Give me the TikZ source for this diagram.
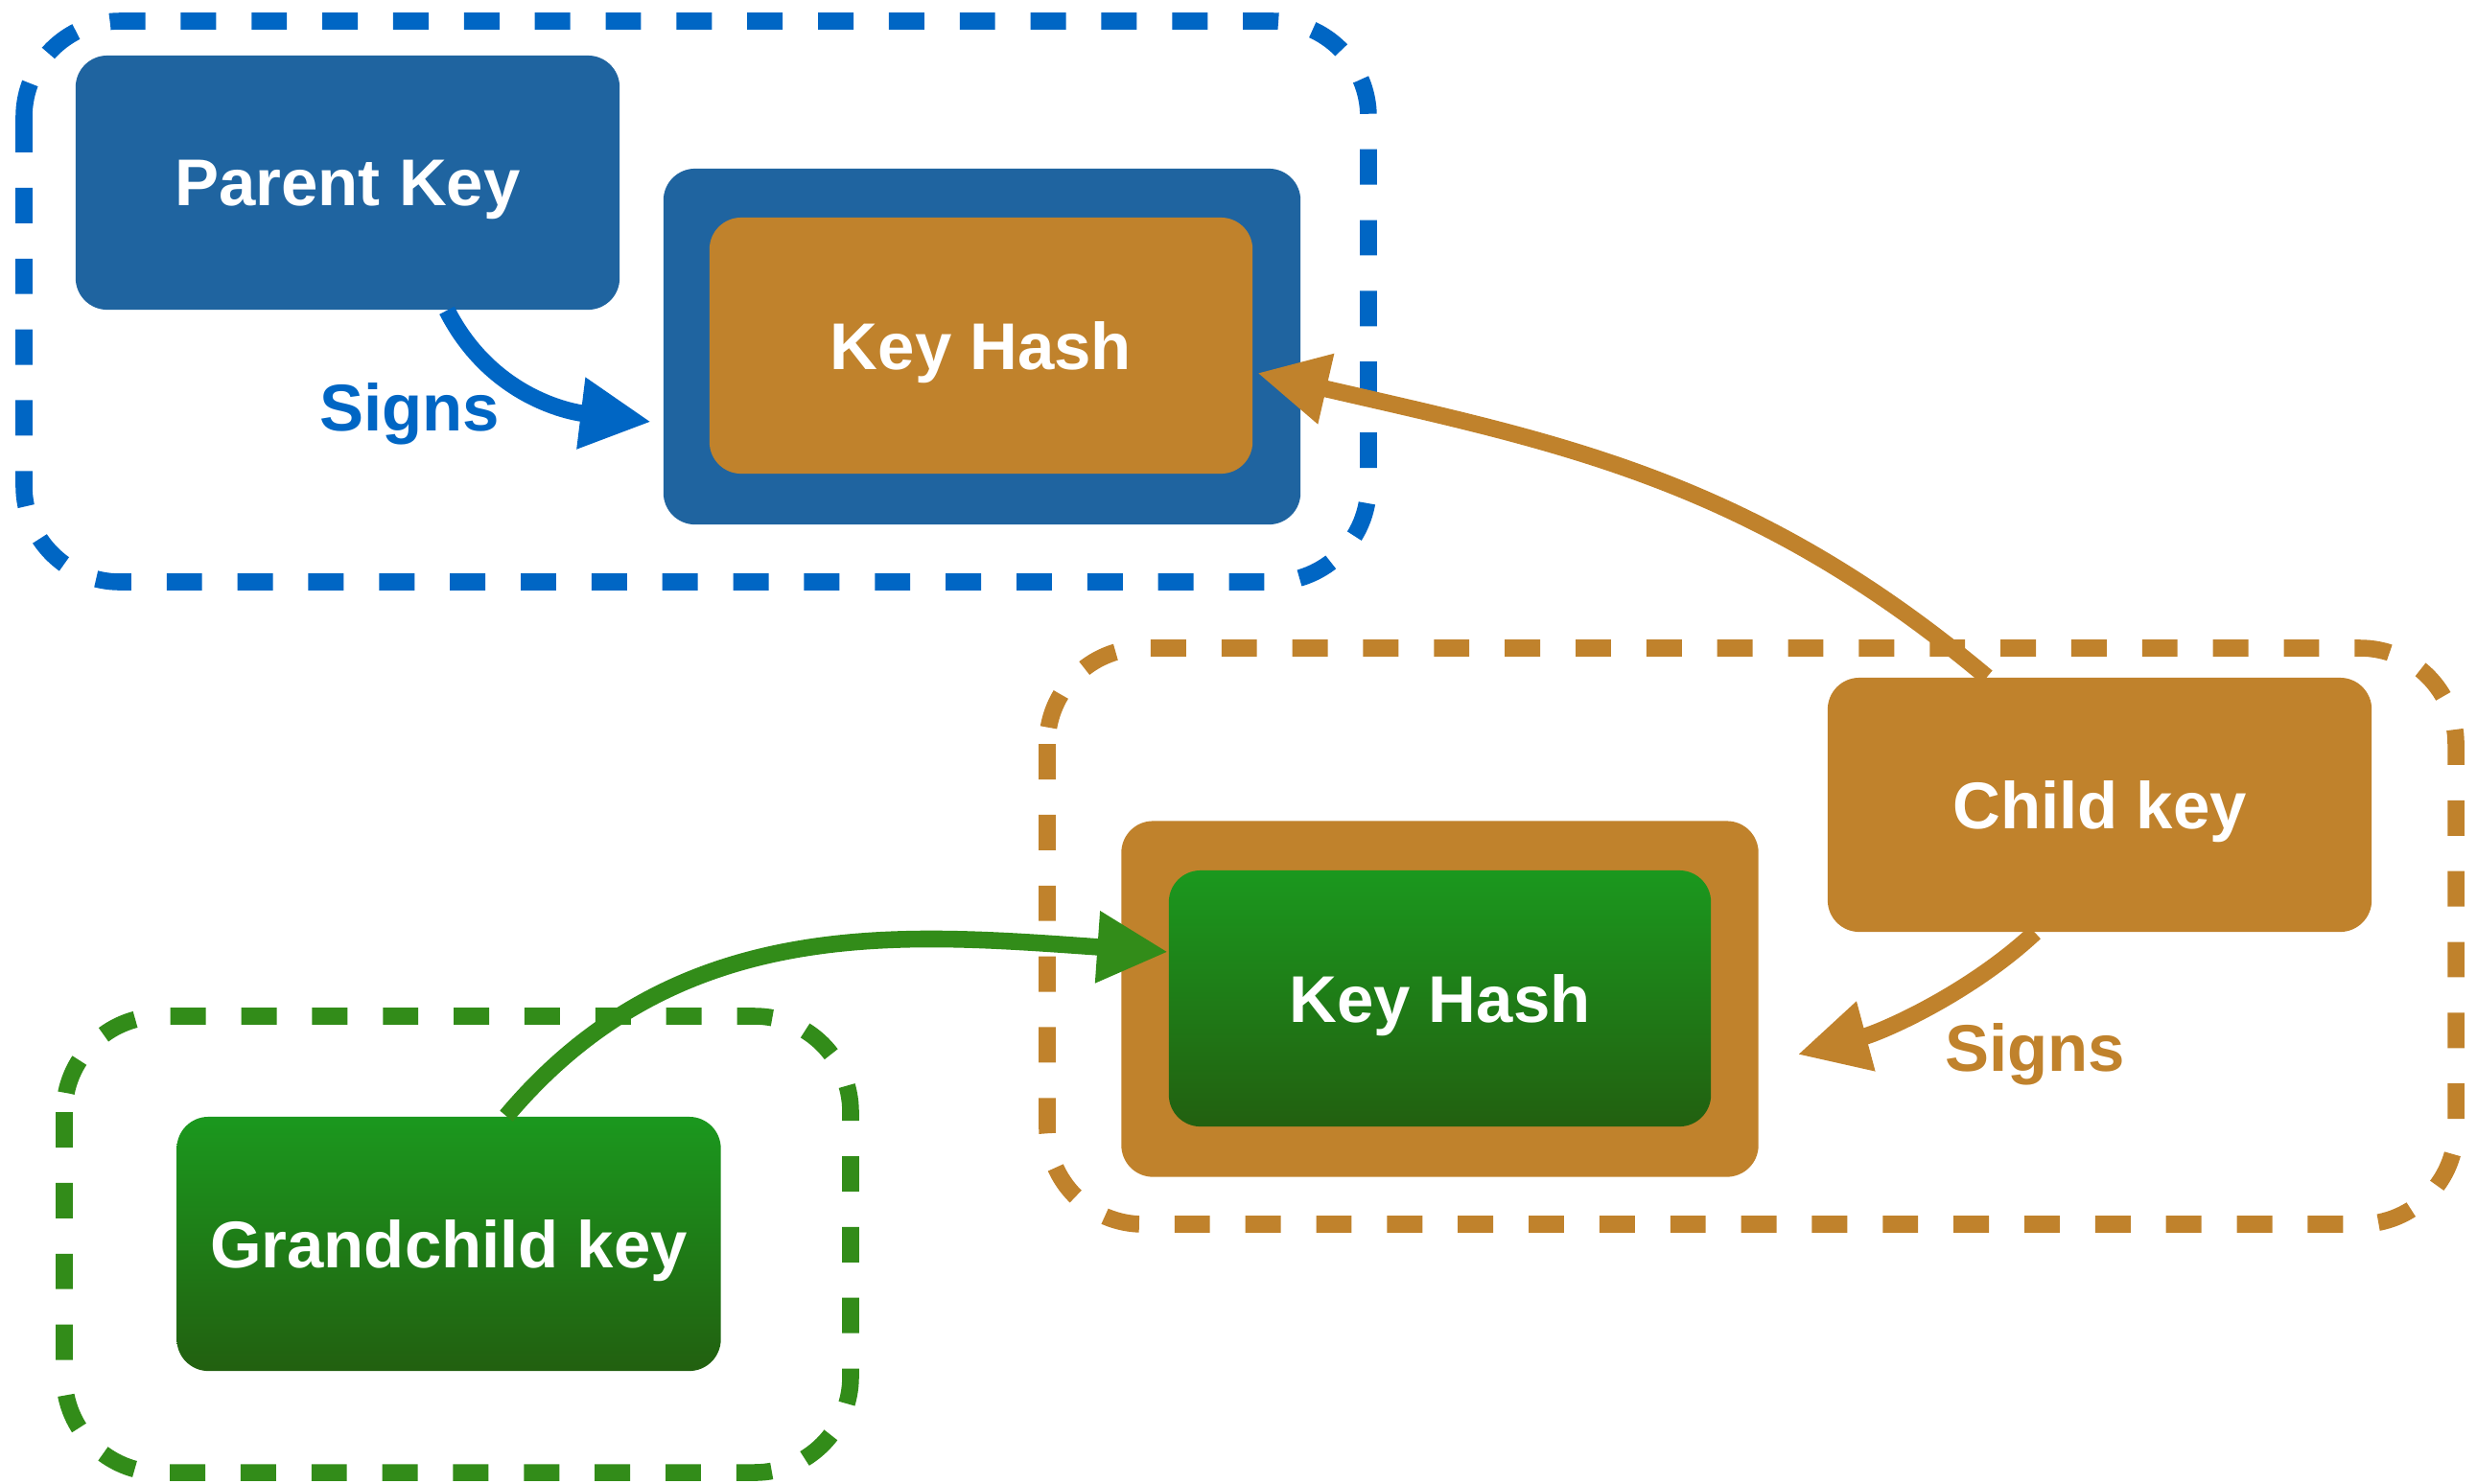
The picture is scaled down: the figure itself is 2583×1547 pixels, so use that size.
\documentclass[tikz,border=0pt]{standalone}
\usepackage{fontspec}
\setsansfont{Liberation Sans}[BoldFont={Liberation Sans Bold}]
\usepackage{tikz}
\usetikzlibrary{positioning,calc}
\usetikzlibrary{arrows.meta}
\definecolor{KeyBlue}{RGB}{31,100,160}
\definecolor{LineBlue}{RGB}{0,102,196}
\definecolor{KeyGold}{RGB}{192,130,44}
\definecolor{LineGreen}{RGB}{50,140,25}
\definecolor{GreenTop}{RGB}{27,152,30}
\definecolor{GreenBot}{RGB}{34,96,16}
\newcommand{\keyfont}{\sffamily\bfseries\fontsize{19.6}{23}\selectfont}
\tikzset{
  keybox/.style={rectangle,rounded corners=0.33cm,minimum width=5.67cm,minimum height=2.65cm,
    inner sep=0pt,text depth=0pt,text=white,font=\keyfont},
  holder/.style={rectangle,rounded corners=0.33cm,minimum width=6.64cm,minimum height=3.71cm,inner sep=0pt},
  greenkey/.style={keybox,top color=GreenTop,bottom color=GreenBot},
  group/.style={line width=5pt,rounded corners=1cm,dash pattern=on 10.5pt off 10.5pt},
  link/.style={line width=5pt,-{Triangle[length=21pt,width=20pt]}},
  signs/.style={font=\keyfont,text depth=0pt},
}

\begin{document}
\begin{tikzpicture}[x=0.01cm,y=-0.01cm]
\useasboundingbox (0,0) rectangle (2583,1547);
\draw[group,LineBlue] (25,22) rectangle (1427,607);
\draw[group,KeyGold] (1092,676) rectangle (2561,1277);
\draw[group,LineGreen] (67,1060) rectangle (887,1536);
\node[keybox,fill=KeyBlue] (parent) at (362.5,190.5) {Parent Key};
\node[holder,fill=KeyBlue] (holdA) at (1024,361.5) {};
\node[keybox,fill=KeyGold,minimum width=5.66cm,minimum height=2.67cm] (hashA) at (1023,360.5) {Key Hash};
\node[keybox,fill=KeyGold] (child) at (2189.5,839.5) {Child key};
\node[holder,fill=KeyGold] (holdB) at (1501.5,1042) {};
\node[greenkey,minimum width=5.65cm,minimum height=2.67cm] (hashB) at (1501.5,1041.5) {Key Hash};
\node[greenkey] (grand) at (468,1297.5) {Grandchild key};
\node[signs,text=LineBlue] (signA) at (427,425) {Signs};
\node[signs,text=KeyGold] (signB) at (2122,1092) {Signs};
\draw[link,LineBlue] ([xshift=1.035cm]parent.south) to[out=-63,in=173] ([xshift=-0.12cm,yshift=-0.785cm]holdA.west);
\draw[link,KeyGold] ([xshift=-1.175cm]child.north) to[out=140,in=-13] ([xshift=0.04cm,yshift=-0.285cm]hashA.east);
\draw[link,KeyGold] ([xshift=-0.675cm]child.south) to[out=-137,in=15,looseness=0.85] ([xshift=0.4cm,yshift=-0.58cm]holdB.east);
\draw[link,LineGreen] ([xshift=0.6cm]grand.north) to[out=50,in=176] ([yshift=0.485cm]hashB.west);
\end{tikzpicture}
\end{document}
